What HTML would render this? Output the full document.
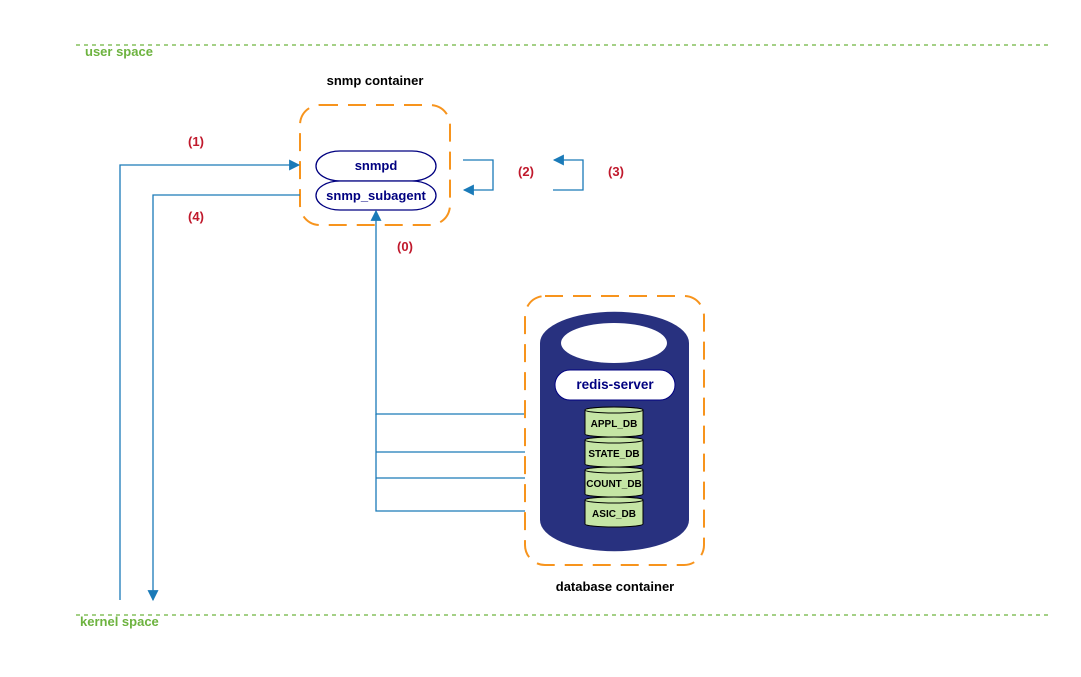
<!DOCTYPE html>
<html><head><meta charset="utf-8"><style>
html,body{margin:0;padding:0;background:#fff}
svg{display:block}
text{font-family:"Liberation Sans",sans-serif;font-weight:bold}
</style></head><body>
<svg width="1081" height="677" viewBox="0 0 1081 677" xmlns="http://www.w3.org/2000/svg">
<defs>
<marker id="a" viewBox="0 0 10 10" refX="9" refY="5" markerWidth="12" markerHeight="11" markerUnits="userSpaceOnUse" orient="auto"><path d="M0,0 L10,5 L0,10 Z" fill="#1a7ab8"/></marker>
</defs>
<line x1="76" y1="45" x2="1051" y2="45" stroke="#6db33f" stroke-width="1.3" stroke-dasharray="4,4"/>
<text x="85" y="56" font-size="13" fill="#6db33f">user space</text>
<line x1="76" y1="615" x2="1051" y2="615" stroke="#6db33f" stroke-width="1.3" stroke-dasharray="4,4"/>
<text x="80" y="626" font-size="13" fill="#6db33f">kernel space</text>

<text x="375" y="85" font-size="13" fill="#000" text-anchor="middle">snmp container</text>
<rect x="300" y="105" width="150" height="120" rx="20" fill="none" stroke="#f7941d" stroke-width="2" stroke-dasharray="18,10"/>
<rect x="316" y="151" width="120" height="30" rx="24" ry="15" fill="#fff" stroke="#000080" stroke-width="1.3"/>
<text x="376" y="170" font-size="13" fill="#000080" text-anchor="middle">snmpd</text>
<rect x="316" y="181" width="120" height="29" rx="24" ry="14.5" fill="#fff" stroke="#000080" stroke-width="1.3"/>
<text x="376" y="200" font-size="13" fill="#000080" text-anchor="middle">snmp_subagent</text>

<g stroke="#1a7ab8" stroke-width="1.3" fill="none">
<polyline points="120,600 120,165 299,165" marker-end="url(#a)"/>
<polyline points="300,195 153,195 153,600" marker-end="url(#a)"/>
<polyline points="463,160 493,160 493,190 464,190" marker-end="url(#a)"/>
<polyline points="553,190 583,190 583,160 554,160" marker-end="url(#a)"/>
<polyline points="525,414 376,414 376,211" marker-end="url(#a)"/>
<line x1="376" y1="452" x2="525" y2="452"/>
<line x1="376" y1="478" x2="525" y2="478"/>
<polyline points="525,511 376,511 376,414"/>
</g>
<g font-size="13" fill="#c0192c" text-anchor="middle">
<text x="196" y="146">(1)</text>
<text x="196" y="221">(4)</text>
<text x="526" y="176">(2)</text>
<text x="616" y="176">(3)</text>
<text x="405" y="251">(0)</text>
</g>

<rect x="525" y="296" width="179" height="269" rx="20" fill="none" stroke="#f7941d" stroke-width="2" stroke-dasharray="18,10"/>
<text x="615" y="591" font-size="13" fill="#000" text-anchor="middle">database container</text>
<path d="M540,343 A74,31 0 0 1 689,343 L689,520 A74,31 0 0 1 540,520 Z" fill="#28317f"/>
<ellipse cx="614" cy="343" rx="53" ry="20" fill="#fff"/>
<rect x="555" y="370" width="120" height="30" rx="15" fill="#fff" stroke="#000080" stroke-width="1"/>
<text x="615" y="389" font-size="13.5" fill="#000080" text-anchor="middle">redis-server</text>
<g stroke="#000" stroke-width="1" fill="#c5e5a5">
<path d="M585,410 L585,434 A29,3 0 0 0 643,434 L643,410 A29,3 0 0 0 585,410 Z"/>
<ellipse cx="614" cy="410" rx="29" ry="3"/>
<path d="M585,440 L585,464 A29,3 0 0 0 643,464 L643,440 A29,3 0 0 0 585,440 Z"/>
<ellipse cx="614" cy="440" rx="29" ry="3"/>
<path d="M585,470 L585,494 A29,3 0 0 0 643,494 L643,470 A29,3 0 0 0 585,470 Z"/>
<ellipse cx="614" cy="470" rx="29" ry="3"/>
<path d="M585,500 L585,524 A29,3 0 0 0 643,524 L643,500 A29,3 0 0 0 585,500 Z"/>
<ellipse cx="614" cy="500" rx="29" ry="3"/>
</g>
<g font-size="10" fill="#000" text-anchor="middle">
<text x="614" y="427">APPL_DB</text>
<text x="614" y="457">STATE_DB</text>
<text x="614" y="487">COUNT_DB</text>
<text x="614" y="517">ASIC_DB</text>
</g>
</svg>
</body></html>
